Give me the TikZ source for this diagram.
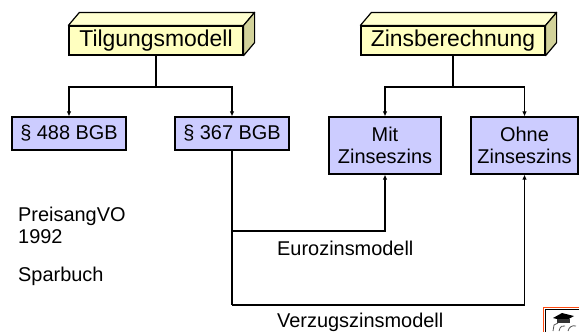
\documentclass[tikz,border=0pt]{standalone}
\usepackage{fontspec}
\setmainfont{Liberation Sans}
\usetikzlibrary{arrows.meta}
\definecolor{boxyellow}{HTML}{FFFFC0}
\definecolor{boxyellowtop}{HTML}{FFFFD0}
\definecolor{boxyellowside}{HTML}{D2D29A}
\definecolor{boxblue}{HTML}{CCCCFF}
\definecolor{logoorange}{HTML}{FF4A10}

\begin{document}
\begin{tikzpicture}[x=1bp,y=-1bp,
  every node/.style={font=\fontsize{20}{22}\selectfont, inner sep=0pt},
  titlebox/.style={draw, line width=1.2bp, fill=boxyellow, minimum height=29bp,
    font=\fontsize{23}{26}\selectfont},
  bluebox/.style={draw, line width=1.2bp, fill=boxblue, align=center},
  link/.style={line width=1.1bp},
  tip/.style={link, -{Latex[length=5bp,width=4.5bp]}},
  textlabel/.style={anchor=base west}]
\useasboundingbox (0,0) rectangle (579,331);

% headline boxes with a 3D top and side face
\node[titlebox, minimum width=174bp] (tilg) at (156,40.5) {Tilgungsmodell};
\node[titlebox, minimum width=184bp] (zins) at (453,40.5) {Zinsberechnung};
\foreach \b in {tilg,zins}{
  \draw[line width=1.2bp, fill=boxyellowtop, line join=round]
    (\b.north west) -- ([shift={(11,-13)}]\b.north west)
    -- ([shift={(11,-13)}]\b.north east) -- (\b.north east) -- cycle;
  \draw[line width=1.2bp, fill=boxyellowside, line join=round]
    (\b.north east) -- ([shift={(11,-13)}]\b.north east)
    -- ([shift={(11,-13)}]\b.south east) -- (\b.south east) -- cycle;
}

% second row
\node[bluebox, minimum width=114bp, minimum height=33bp] (p488) at (69,133.5) {§ 488 BGB};
\node[bluebox, minimum width=114bp, minimum height=33bp] (p367) at (232,133.5) {§ 367 BGB};
\node[bluebox, minimum width=112bp, minimum height=57bp] (mit) at (385,145.5) {Mit\\Zinseszins};
\node[bluebox, minimum width=107bp, minimum height=57bp] (ohne) at (524.5,145.5) {Ohne\\Zinseszins};

% tree connectors
\coordinate (tj) at (156,87);
\draw[link] (tilg.south) -- (tj);
\draw[tip] (tj) -| (p488.north);
\draw[tip] (tj) -| (p367.north);
\coordinate (zj) at (zins.south |- tj);
\draw[link] (zins.south) -- (zj);
\draw[tip] (zj) -| (mit.north);
\draw[tip] (zj) -| (ohne.north);

% interest models
\coordinate (eb) at (232,231);
\coordinate (vb) at (232,305);
\draw[link] (p367.south) -- (vb);
\draw[tip] (eb) -| (mit.south);
\draw[tip] (vb) -| (ohne.south);

% labels
\node[textlabel] (preis) at (18,221) {PreisangVO};
\node[textlabel] (jahr) at (18,243) {1992};
\node[textlabel] (spar) at (18,281) {Sparbuch};
\node[textlabel] (euro) at (277,255) {Eurozinsmodell};
\node[textlabel] (verz) at (277,327) {Verzugszinsmodell};

% small logo in the corner
\draw[logoorange, line width=1.5bp, fill=white] (543.5,307.5) rectangle (590,345);
\draw[black, line width=0.4bp] (545,309) rectangle (590,345);
\fill[black] (553,318) -- (562,313) -- (574,316) -- (565,321) -- cycle;
\fill[black!80] (557,319) rectangle (570,323);
\draw[black!65, line width=0.8bp] (553,331) -- (554,325) -- (558,323)
  (559,331) .. controls (560,326) and (563,325) .. (565,326)
  (568,331) .. controls (569,327) and (572,325) .. (576,326);
\end{tikzpicture}
\end{document}
